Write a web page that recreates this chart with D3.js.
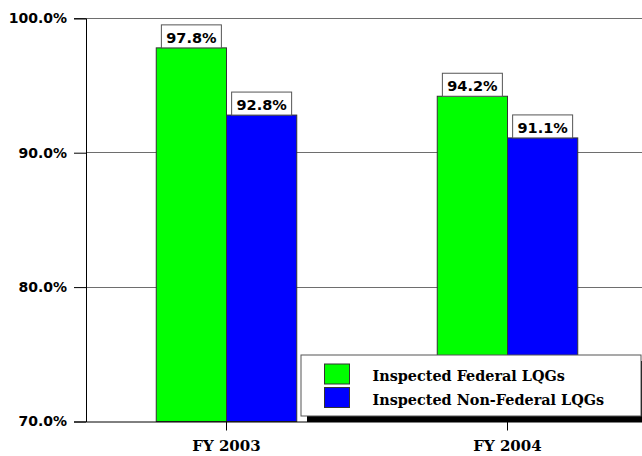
<!DOCTYPE html>
<html><head><meta charset="utf-8">
<script src="https://cdn.jsdelivr.net/npm/d3@7"></script>
<style>body{margin:0;background:#fff}svg{display:block}</style>
</head><body>
<script>
const categories = ["FY 2003", "FY 2004"];
const seriesNames = ["Inspected Federal LQGs", "Inspected Non-Federal LQGs"];
const federal = [97.8, 94.2];
const nonFederal = [92.8, 91.1];
const yTicks = [70, 80, 90, 100];
const colors = ["#00ff00", "#0000ff"];

const W = 642, H = 456;
const m = {left: 86, top: 18.3, right: -6, bottom: 34.5};
const svg = d3.select("body").append("svg").attr("width", W).attr("height", H);

const x = d3.scaleBand().domain(categories).range([m.left, W - m.right]).paddingInner(0).paddingOuter(0);
const x1 = d3.scaleBand().domain(seriesNames).range([0, x.bandwidth()]).paddingInner(0).paddingOuter(1);
const y = d3.scaleLinear().domain([70, 100]).range([H - m.bottom, m.top]);

// gridlines
svg.append("g").selectAll("line").data(yTicks.filter(d => d > 70)).join("line")
  .attr("x1", m.left).attr("x2", W).attr("y1", d => y(d)).attr("y2", d => y(d))
  .attr("stroke", "#6e6e6e").attr("stroke-width", 1).attr("shape-rendering", "crispEdges");

const data = categories.map((c, i) => ({c, vals: [federal[i], nonFederal[i]]}));

const groups = svg.append("g").selectAll("g").data(data).join("g")
  .attr("transform", d => `translate(${x(d.c)},0)`);

groups.selectAll("rect").data(d => d.vals.map((v, j) => ({v, s: seriesNames[j], j}))).join("rect")
  .attr("x", d => x1(d.s)).attr("width", x1.bandwidth())
  .attr("y", d => y(d.v)).attr("height", d => y(70) - y(d.v))
  .attr("fill", d => colors[d.j]).attr("stroke", "#333").attr("stroke-width", 1);

// value labels
groups.each(function(d) {
  const g = d3.select(this);
  d.vals.forEach((v, j) => {
    const cx = x1(seriesNames[j]) + x1.bandwidth() / 2;
    const bw = 60, bh = 23;
    g.append("rect").attr("x", cx - bw / 2).attr("y", y(v) - bh).attr("width", bw).attr("height", bh)
      .attr("fill", "#fff").attr("stroke", "#555").attr("stroke-width", 1);
    g.append("text").attr("x", cx).attr("y", y(v) - 4.8).attr("text-anchor", "middle")
      .attr("font-family", "DejaVu Sans").attr("font-weight", "bold").attr("font-size", 14.5)
      .attr("fill", "#000").text(v.toFixed(1) + "%");
  });
});

// y axis
const yAxis = d3.axisLeft(y).tickValues(yTicks).tickSize(12).tickPadding(7).tickFormat(d => d.toFixed(1) + "%");
const ya = svg.append("g").attr("transform", `translate(${m.left},0)`).call(yAxis);
ya.select(".domain").attr("stroke", "#000");
ya.selectAll(".tick line").attr("stroke", "#000");
ya.selectAll("text").attr("font-family", "DejaVu Sans").attr("font-weight", "bold").attr("font-size", 14).attr("fill", "#000");

// x axis
const xAxis = d3.axisBottom(x).tickSize(9).tickPadding(10).tickSizeOuter(0);
const xa = svg.append("g").attr("transform", `translate(0,${y(70)})`).call(xAxis);
xa.select(".domain").attr("stroke", "#000");
xa.selectAll(".tick line").attr("stroke", "#000");
xa.selectAll("text").attr("font-family", "DejaVu Serif").attr("font-weight", "bold").attr("font-size", 15).attr("fill", "#000");

// legend
const lg = svg.append("g");
const lx = 301, ly = 355, lw = 340, lh = 61;
lg.append("rect").attr("x", lx + 6).attr("y", ly + 6).attr("width", lw).attr("height", lh).attr("fill", "#000");
lg.append("rect").attr("x", lx).attr("y", ly).attr("width", lw).attr("height", lh).attr("fill", "#fff").attr("stroke", "#555");
seriesNames.forEach((s, i) => {
  lg.append("rect").attr("x", 324.5).attr("y", 364 + i * 23.5).attr("width", 25).attr("height", 20)
    .attr("fill", colors[i]).attr("stroke", "#333");
  lg.append("text").attr("x", 372.5).attr("y", 381 + i * 23.5)
    .attr("font-family", "DejaVu Serif").attr("font-weight", "bold").attr("font-size", 14.4).attr("fill", "#000").text(s);
});
</script>
</body></html>
